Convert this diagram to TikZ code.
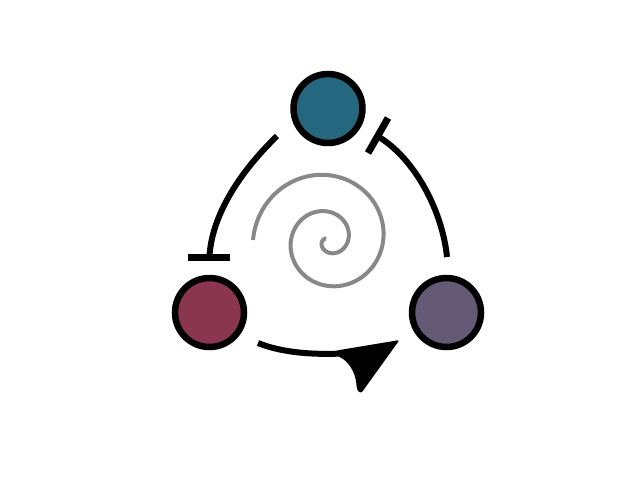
\documentclass[tikz,border=0pt]{standalone}
\definecolor{cteal}{RGB}{38,103,128}
\definecolor{cwine}{RGB}{138,54,80}
\definecolor{cplum}{RGB}{100,90,117}
\definecolor{cspiral}{RGB}{136,136,136}
\begin{document}
\begin{tikzpicture}[x=1pt,y=-1pt,
  blob/.style={circle,draw=black,line width=6.5pt,minimum size=69pt,inner sep=0pt},
  link/.style={draw=black,line width=6pt},
  tbar/.style={draw=black,line width=7pt},
  spiralline/.style={draw=cspiral,line width=4pt}]
\useasboundingbox (0,0) rectangle (640,480);
\node[blob,fill=cteal] (top) at (328,108.5) {};
\node[blob,fill=cwine] (left) at (209.5,312.5) {};
\node[blob,fill=cplum] (right) at (446.5,312.5) {};
% left inhibition
\coordinate (la) at (277,136);
\coordinate (lb) at (209.5,255);
\coordinate (lb1) at (188,257.5);
\coordinate (lb2) at (229.5,257.5);
\draw[link] (la) .. controls (245,167) and (213,210) .. (lb);
\draw[tbar] (lb1) -- (lb2);
% right inhibition
\coordinate (ra) at (379,137);
\coordinate (rb) at (447,257);
\coordinate (rb1) at (368,153);
\coordinate (rb2) at (388,118);
\draw[link] (rb) .. controls (442.5,212) and (416,160) .. (ra);
\draw[tbar] (rb1) -- (rb2);
% bottom activation
\coordinate (ba) at (258,343);
\coordinate (bb) at (342,353.5);
\coordinate (tip) at (399.5,340);
\draw[link] (ba) .. controls (280,352) and (310,355) .. (bb);
\fill[black,rounded corners=1.5pt] (tip) -- (336.5,350.5) -- (338.5,356.5)
  .. controls (348,361) and (355,371) .. (356.5,385)
  .. controls (357,392) and (361,394) .. (363.5,390) -- cycle;
% spiral
\draw[spiralline] plot[domain=0:2.1,samples=160,variable=\u]
  ({328+(75-41*\u+3*\u*\u)*cos(180-360*\u)},{240-(75-41*\u+3*\u*\u)*sin(180-360*\u)});
\end{tikzpicture}
\end{document}
